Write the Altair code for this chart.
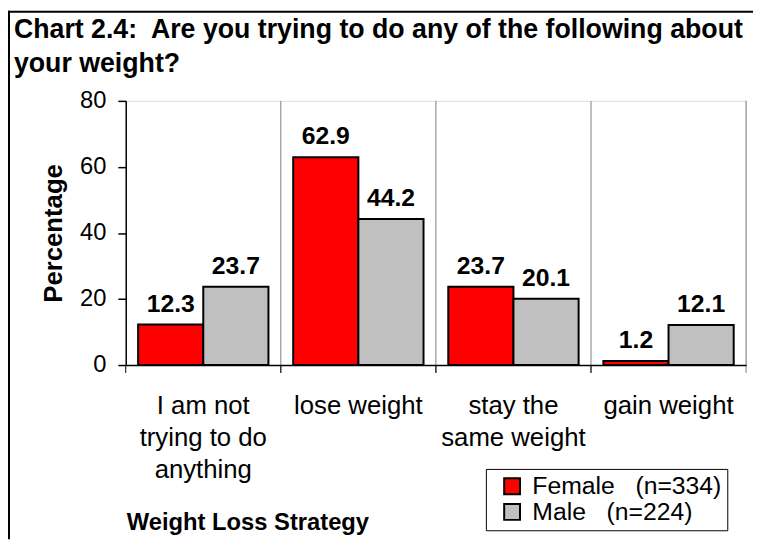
import altair as alt
import pandas as pd

categories = ["I am not|trying to do|anything", "lose weight", "stay the|same weight", "gain weight"]
female = [12.3, 62.9, 23.7, 1.2]
male = [23.7, 44.2, 20.1, 12.1]
series = ["Female\u00a0\u00a0\u00a0(n=334)", "Male\u00a0\u00a0\u00a0(n=224)"]
colors = ["#FF0000", "#C0C0C0"]
y_ticks = [0, 20, 40, 60, 80]
title_lines = ["Chart 2.4:\u00a0 Are you trying to do any of the following about", "your weight?"]

rows = []
for c, f, m in zip(categories, female, male):
    rows.append({"cat": c, "sex": series[0], "value": f})
    rows.append({"cat": c, "sex": series[1], "value": m})
df = pd.DataFrame(rows)
div_df = pd.DataFrame({"cat": categories})
one_df = pd.DataFrame({"k": [0]})

W, H = 627, 267
FONT = "Liberation Sans"
CANVAS_H = 534

x_axis = alt.Axis(
    title="Weight Loss Strategy", labelExpr="split(datum.label, '|')", labelAngle=0,
    labelFontSize=26, labelFont=FONT, labelColor="black", labelLineHeight=32.5,
    labelPadding=28, labelBaseline="top", labelAlign="center", ticks=False, tickSize=0,
    domainColor="black", domainWidth=1.5, titleFontSize=24, titleFont=FONT,
    titleFontWeight="bold", titleX=123, titleY=166, titleAlign="center",
    titleBaseline="alphabetic", titleColor="black", grid=False, labelLimit=400, zindex=1,
)
x_scale = alt.Scale(paddingInner=0, paddingOuter=0)

def xenc(bp=None):
    if bp is None:
        return alt.X("cat:N", sort=categories, scale=x_scale, axis=x_axis)
    return alt.X("cat:N", sort=categories, scale=x_scale, axis=x_axis, bandPosition=bp)

y_enc = alt.Y(
    "value:Q", scale=alt.Scale(domain=[0, 80], nice=False),
    axis=alt.Axis(
        title="Percentage", values=y_ticks, grid=False, tickSize=8, tickColor="black",
        tickWidth=1.5, domainColor="black", domainWidth=1.5, labelFontSize=24,
        labelFont=FONT, labelColor="black", labelPadding=12, titleFontSize=26,
        titleFont=FONT, titleFontWeight="bold", titleColor="black", titlePadding=13,
        zindex=1,
    ),
)

xoff = alt.XOffset("sex:N", sort=series, scale=alt.Scale(paddingOuter=0.19, paddingInner=0))

dividers = alt.Chart(div_df).mark_rule(color="#808080", strokeWidth=1).encode(
    x=xenc(1), y=alt.value(0), y2=alt.value(H + 8)
)
ticks_below = alt.Chart(div_df).mark_rule(color="black", strokeWidth=1).encode(
    x=xenc(0), y=alt.value(H), y2=alt.value(H + 8)
)

bars = alt.Chart(df).mark_bar(stroke="black", strokeWidth=2).encode(
    x=xenc(),
    xOffset=xoff,
    y=y_enc,
    color=alt.Color(
        "sex:N", sort=series, scale=alt.Scale(domain=series, range=colors),
        legend=alt.Legend(
            title=None, orient="none", legendX=364, legendY=372, direction="vertical",
            symbolType="square", symbolSize=256, symbolStrokeColor="black",
            symbolStrokeWidth=2, labelFontSize=25, labelFont=FONT, labelColor="black",
            labelOffset=8, labelLimit=400, strokeColor="black", fillColor="white",
            padding=5, symbolOffset=9, rowPadding=0,
            labelExpr="datum.label + '\u00a0\u00a0\u00a0'",
        ),
    ),
)

labels = alt.Chart(df).mark_text(
    dy=-13, baseline="alphabetic", fontSize=25, fontWeight="bold", font=FONT, color="black"
).encode(
    x=xenc(),
    xOffset=xoff,
    y=y_enc,
    text=alt.Text("value:Q", format=".1f"),
)

title1 = alt.Chart(one_df).mark_text(
    text=title_lines[0], align="left", baseline="alphabetic", fontSize=27,
    fontWeight="bold", font=FONT, color="black"
).encode(x=alt.value(-113), y=alt.value(-64))
title2 = alt.Chart(one_df).mark_text(
    text=title_lines[1], align="left", baseline="alphabetic", fontSize=27,
    fontWeight="bold", font=FONT, color="black"
).encode(x=alt.value(-113), y=alt.value(-29))

frame_left = alt.Chart(one_df).mark_rule(color="black", strokeWidth=2).encode(
    x=alt.value(-118), y=alt.value(-91), y2=alt.value(CANVAS_H - 91)
)
frame_top = alt.Chart(one_df).mark_rule(color="black", strokeWidth=2).encode(
    x=alt.value(-119), x2=alt.value(W + 7), y=alt.value(-90)
)

chart = alt.layer(
    dividers, ticks_below, bars, labels, title1, title2, frame_left, frame_top
).properties(
    width=W, height=H,
    autosize=alt.AutoSizeParams(type="none"),
    padding={"left": 119, "top": 91, "right": 7, "bottom": CANVAS_H - 91 - H},
).configure_view(stroke="#808080", strokeWidth=1).configure(background="white")

chart.save("out.html", embed_options={"renderer": "svg", "actions": False})
